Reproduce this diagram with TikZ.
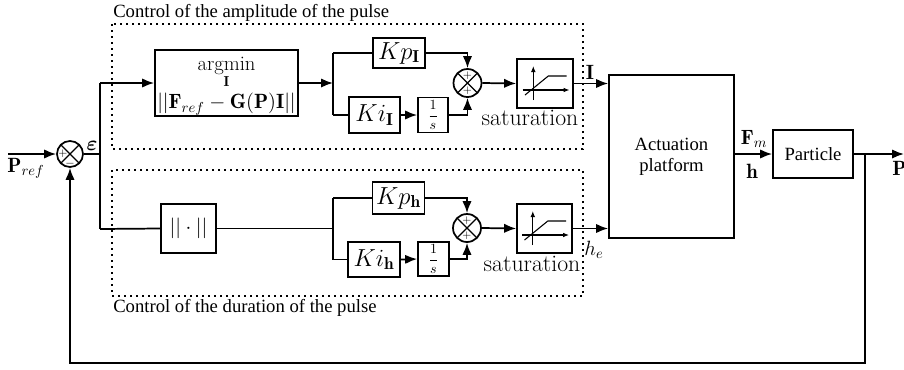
\RequirePackage{fix-cm}
\documentclass[tikz,border=0pt]{standalone}
\usepackage{fontspec}
\newfontfamily\tms{Liberation Serif}
\usepackage{bm}
\usetikzlibrary{arrows.meta,calc}
\begin{document}
\begin{tikzpicture}[x=0.75pt,y=-0.75pt,
  every node/.style={font=\fontsize{15.5}{18}\selectfont},
  ln/.style={line width=1.3pt},
  arr/.style={ln,-{Latex[length=9pt,width=7pt]}},
  blk/.style 2 args={draw,line width=1.3pt,inner sep=0pt,minimum width=#1,minimum height=#2,align=center},
  kf/.style={font=\fontsize{18.5}{20}\selectfont},
  ff/.style={font=\fontsize{10.5}{12}\selectfont},
  sumnode/.style={circle,draw,line width=1.3pt,minimum size=21pt,inner sep=0pt,
    path picture={\draw[line width=0.9pt] (path picture bounding box.north west)--(path picture bounding box.south east)
      (path picture bounding box.north east)--(path picture bounding box.south west);}},
  sgn/.style={inner sep=0pt,font=\fontsize{8.5}{8.5}\selectfont},
  dotbox/.style={line width=1.5pt,dash pattern=on 1.5pt off 3pt},
  tlab/.style={font=\tms\fontsize{14}{16}\selectfont},
  lab/.style={inner sep=0pt},
  satlab/.style={anchor=base,inner sep=0pt,font=\fontsize{17.8}{19}\selectfont},
  icon/.style={line width=0.8pt},
  iconarr/.style={line width=0.8pt,-{Latex[length=4.5pt,width=3.5pt]}}
]
\useasboundingbox (0,0) rectangle (904,369);

% dotted groups
\draw[dotbox] (112,24) rectangle (583,149);
\draw[dotbox] (112,170) rectangle (583,296);
\node[tlab,anchor=base west,inner sep=0pt] (ta) at (113,17) {Control of the amplitude of the pulse};
\node[tlab,anchor=base west,inner sep=0pt] (td) at (113,312) {Control of the duration of the pulse};

% first summing junction
\node[sumnode,minimum size=19.5pt] (s1) at (70,154) {};
\node[sgn] (s1p) at (63,153.5) {+};
\node[sgn] (s1m) at (70,163.5) {$-$};
\coordinate (in) at (8,154);
\draw[arr] (in) -- (s1.west);
\node[lab] (pref) at (26,168) {$\mathbf{P}_{ref}$};
\node[lab] (eps) at (92,146) {$\bm{\varepsilon}$};

% branch
\coordinate (b1) at (100,154);
\coordinate (b1t) at (100,83);
\coordinate (b1b) at (100,229);
\draw[ln] (s1.east) -- (b1);
\draw[ln] (b1t) -- (b1b);

% upper path
\node[blk={107.25pt}{49.5pt}] (am) at (226.5,83) {};
\node[lab,align=center] (amt) at (226.5,86)
  {$\mathop{\mathrm{argmin}}\limits_{\mathbf I}$\\[3pt]$||\mathbf{F}_{ref}-\mathbf{G}(\mathbf{P})\mathbf{I}||$};
\draw[arr] (b1t) -- (am.west);
\coordinate (b2) at (333,83);
\coordinate (b2t) at (333,53);
\coordinate (b2b) at (333,115);
\draw[arr] (am.east) -- (b2);
\draw[ln] (b2t) -- (b2b);
\node[blk={39pt}{23pt},kf] (kpi) at (399,53) {$Kp_{\mathbf I}$};
\node[blk={38.25pt}{27pt},kf] (kii) at (374.5,115) {$Ki_{\mathbf I}$};
\node[blk={22.5pt}{26.25pt},ff] (isi) at (433,115) {$\displaystyle\frac{1}{s}$};
\node[sumnode] (sui) at (467.5,83) {};
\node[sgn] (suip) at (467.5,75.5) {+};
\node[sgn] (suiq) at (467.5,90.5) {+};
\draw[ln] (b2t) -- (kpi.west);
\draw[ln] (b2b) -- (kii.west);
\draw[arr] (kii.east) -- (isi.west);
\draw[arr] (kpi.east) -| (sui.north);
\draw[arr] (isi.east) -| (sui.south);
\node[blk={42pt}{36.75pt}] (sati) at (545,83.5) {};
\begin{scope}[shift={(sati.center)}]
  \draw[iconarr] (-11.7,16.5) -- (-11.7,-17.5);
  \draw[iconarr] (-22.3,6.5) -- (24.5,6.5);
  \draw[icon] (-20,11.5) -- (3.3,-7.5) -- (21.7,-7.5);
\end{scope}
\node[satlab] (satil) at (530,125) {saturation};
\draw[arr] (sui.east) -- (sati.west);

% lower path
\node[blk={41.25pt}{36.75pt}] (nrm) at (188.5,228.5) {$||\cdot||$};
\draw[ln] (b1b) -- (nrm.west);
\coordinate (b3) at (333,228.5);
\coordinate (b3t) at (333,198);
\coordinate (b3b) at (333,259.5);
\draw[ln] (nrm.east) -- (b3);
\draw[ln] (b3t) -- (b3b);
\node[blk={39pt}{24pt},kf] (kph) at (398.5,198) {$Kp_{\mathbf h}$};
\node[blk={39pt}{26.25pt},kf] (kih) at (374,259.5) {$Ki_{\mathbf h}$};
\node[blk={23.25pt}{25.5pt},ff] (ish) at (433.5,259) {$\displaystyle\frac{1}{s}$};
\node[sumnode] (suh) at (467,228) {};
\node[sgn] (suhp) at (467,220.5) {+};
\node[sgn] (suhq) at (467,235.5) {+};
\draw[ln] (b3t) -- (kph.west);
\draw[ln] (b3b) -- (kih.west);
\draw[arr] (kih.east) -- (ish.west);
\draw[arr] (kph.east) -| (suh.north);
\draw[arr] (ish.east) -| (suh.south);
\node[blk={41.25pt}{36.75pt}] (sath) at (544.5,228.5) {};
\begin{scope}[shift={(sath.center)}]
  \draw[iconarr] (-11.7,16.5) -- (-11.7,-17.5);
  \draw[iconarr] (-22.3,6.5) -- (24.5,6.5);
  \draw[icon] (-20,11.5) -- (3.3,-7.5) -- (21.7,-7.5);
\end{scope}
\node[satlab] (sathl) at (532,271) {saturation};
\draw[arr] (suh.east) -- (sath.west);

% actuation
\node[blk={93.75pt}{122.25pt},tlab] (act) at (671.5,156.5) {Actuation\\platform};
\draw[arr] (sati.east) -- (act.west |- sati.east);
\draw[arr] (sath.east) -- (act.west |- sath.east);
\node[lab] (il) at (590,72) {$\mathbf I$};
\node[lab] (hel) at (594,250) {$h_e$};

% particle
\node[blk={60pt}{36pt},tlab] (pt) at (813,154) {Particle};
\draw[arr] (act.east |- pt.west) -- (pt.west);
\node[lab] (fml) at (754,139) {$\mathbf{F}_m$};
\node[lab] (hl) at (752,171) {$\mathbf h$};
\coordinate (out) at (904,154);
\draw[arr] (pt.east) -- (out);
\node[lab,anchor=west] (pl) at (892,168) {$\mathbf P$};

% feedback
\coordinate (ob) at (865,154);
\coordinate (fb) at (865,363);
\draw[arr] (ob) -- (fb) -| (s1.south);
\end{tikzpicture}
\end{document}
